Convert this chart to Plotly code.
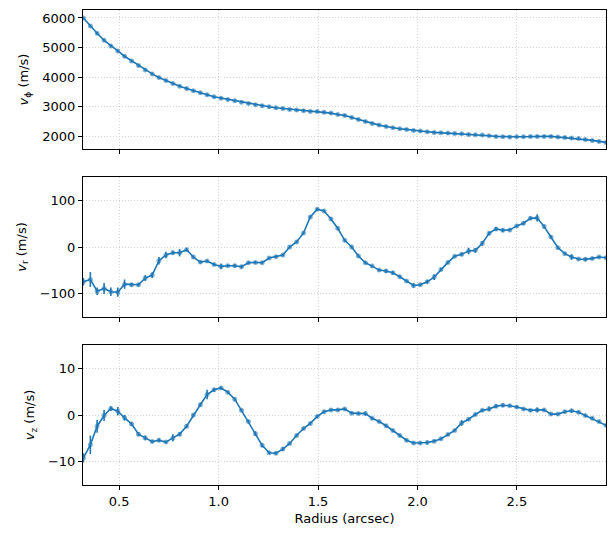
import plotly.graph_objects as go
from plotly.subplots import make_subplots

radius = [0.320, 0.355, 0.389, 0.424, 0.458, 0.493, 0.527, 0.562, 0.597, 0.631,
          0.666, 0.700, 0.735, 0.770, 0.804, 0.839, 0.873, 0.908, 0.942, 0.977,
          1.012, 1.046, 1.081, 1.115, 1.150, 1.185, 1.219, 1.254, 1.288, 1.323,
          1.357, 1.392, 1.427, 1.461, 1.496, 1.530, 1.565, 1.599, 1.634, 1.669,
          1.703, 1.738, 1.772, 1.807, 1.842, 1.876, 1.911, 1.945, 1.980, 2.014,
          2.049, 2.084, 2.118, 2.153, 2.187, 2.222, 2.257, 2.291, 2.326, 2.360,
          2.395, 2.429, 2.464, 2.499, 2.533, 2.568, 2.602, 2.637, 2.671, 2.706,
          2.741, 2.775, 2.810, 2.844, 2.879, 2.913, 2.948]

v_phi = [6000, 5730, 5483, 5247, 5056, 4888, 4708, 4551, 4393, 4247,
         4112, 3989, 3888, 3787, 3697, 3618, 3539, 3472, 3404, 3337,
         3292, 3247, 3202, 3157, 3112, 3067, 3034, 3000, 2966, 2944,
         2910, 2888, 2865, 2843, 2843, 2820, 2787, 2742, 2710, 2640,
         2573, 2506, 2438, 2382, 2337, 2292, 2258, 2236, 2202, 2180,
         2157, 2135, 2124, 2112, 2101, 2090, 2067, 2056, 2045, 2022,
         2000, 1989, 1978, 1989, 1989, 2000, 2000, 2000, 2000, 1978,
         1966, 1944, 1933, 1899, 1865, 1831, 1798]
v_phi_err = [45] * 77

v_r = [-74.6, -69.5, -94.6, -88.9, -96.0, -96.8, -79.6, -81.0, -81.0, -66.7,
       -60.2, -29.4, -17.2, -12.2, -12.2, -5.7, -21.5, -32.3, -30.1, -37.3,
       -41.6, -40.1, -40.1, -42.3, -33.7, -33.0, -33.7, -23.7, -20.8, -17.2,
       0.0, 10.8, 30.1, 64.5, 81.0, 77.4, 60.2, 40.1, 14.3, 0.0,
       -19.4, -33.7, -40.9, -49.5, -51.6, -55.2, -63.8, -73.1, -82.4, -81.0,
       -74.6, -64.5, -48.0, -33.0, -20.0, -15.8, -8.6, -7.2, 7.9, 29.4,
       38.7, 35.8, 36.6, 45.2, 50.9, 61.6, 62.4, 43.7, 21.5, -1.4,
       -14.3, -21.5, -25.8, -26.5, -24.4, -21.5, -22.9]
v_r_err = [8, 16, 8, 12, 9, 10, 10, 4, 4, 6,
           6, 8, 7, 4, 8, 4, 3, 3, 3, 3,
           6, 3, 4, 4, 3, 3, 3, 3, 3, 3,
           3, 3, 3, 3, 3, 3, 3, 3, 3, 3,
           3, 3, 3, 3, 4, 4, 3, 3, 5, 3,
           4, 6, 3, 3, 3, 4, 7, 5, 5, 4,
           4, 4, 3, 3, 4, 4, 8, 4, 3, 3,
           3, 6, 3, 4, 3, 3, 3]

v_z = [-9.2, -6.4, -2.4, -0.1, 1.4, 0.8, -0.6, -1.9, -4.1, -4.9,
       -5.7, -5.4, -5.8, -4.9, -4.1, -2.4, 0.0, 2.2, 4.4, 5.4,
       5.8, 4.9, 3.4, 1.0, -1.4, -4.0, -6.5, -8.1, -8.2, -7.3,
       -6.1, -4.4, -2.9, -1.8, -0.3, 0.7, 1.1, 1.1, 1.3, 0.4,
       0.3, 0.3, -0.7, -1.4, -2.3, -3.3, -4.4, -5.4, -6.0, -6.0,
       -5.9, -5.6, -5.1, -4.2, -3.3, -1.7, -0.9, 0.1, 1.0, 1.3,
       1.9, 2.1, 2.0, 1.7, 1.3, 1.0, 1.1, 1.1, 0.2, 0.2,
       0.7, 0.9, 0.6, -0.1, -0.7, -1.4, -2.2]
v_z_err = [1.0, 2.0, 1.4, 1.2, 0.5, 0.9, 0.6, 0.4, 0.4, 0.5,
           0.3, 0.4, 0.3, 0.8, 0.4, 0.4, 0.3, 0.4, 1.0, 0.4,
           0.3, 0.3, 0.3, 0.3, 0.3, 0.5, 0.4, 0.3, 0.3, 0.4,
           0.3, 0.3, 0.3, 0.3, 0.3, 0.3, 0.3, 0.3, 0.3, 0.3,
           0.3, 0.4, 0.3, 0.3, 0.3, 0.3, 0.3, 0.3, 0.3, 0.3,
           0.4, 0.3, 0.3, 0.3, 0.3, 0.6, 0.3, 0.3, 0.3, 0.5,
           0.4, 0.4, 0.3, 0.3, 0.3, 0.3, 0.5, 0.3, 0.3, 0.3,
           0.3, 0.4, 0.3, 0.3, 0.3, 0.3, 0.3]

x_ticks = [0.5, 1.0, 1.5, 2.0, 2.5]
x_tick_text = ["0.5", "1.0", "1.5", "2.0", "2.5"]
y_labels = ["<i>v</i><sub>ϕ</sub> (m/s)", "<i>v</i><sub>r</sub> (m/s)", "<i>v</i><sub>z</sub> (m/s)"]
y_ranges = [[1575, 6270], [-150, 150], [-15, 15]]
y_ticks = [[2000, 3000, 4000, 5000, 6000], [-100, 0, 100], [-10, 0, 10]]

C = "#1f77b4"
fig = make_subplots(rows=3, cols=1, shared_xaxes=True, vertical_spacing=0.0)

series = [(v_phi, v_phi_err), (v_r, v_r_err), (v_z, v_z_err)]
for k, (vals, errs) in enumerate(series):
    fig.add_trace(go.Scatter(
        x=radius, y=vals, mode="lines+markers",
        line=dict(color=C, width=1.6),
        marker=dict(color="rgba(31,119,180,0.55)", size=5),
        error_y=dict(type="data", array=errs, visible=True, color=C, thickness=1.6, width=0),
        showlegend=False), row=k + 1, col=1)

domains = [[0.7074, 1.0], [0.3537, 0.6484], [0.0, 0.2947]]
axis_common = dict(showline=True, linecolor="black", linewidth=1, mirror=True,
                   ticks="outside", ticklen=4, tickcolor="black",
                   showgrid=True, gridcolor="#d4d4d4", griddash="1px,2px", gridwidth=1,
                   zeroline=False, tickfont=dict(family="DejaVu Sans", size=13, color="black"))

for k in range(3):
    xa = "xaxis" if k == 0 else f"xaxis{k + 1}"
    ya = "yaxis" if k == 0 else f"yaxis{k + 1}"
    fig.layout[xa].update(range=[0.318, 2.948], tickvals=x_ticks, ticktext=x_tick_text,
                          showticklabels=(k == 2), **axis_common)
    fig.layout[ya].update(range=y_ranges[k], tickvals=y_ticks[k], domain=domains[k],
                          title=dict(text=y_labels[k], standoff=10,
                                     font=dict(family="DejaVu Sans", size=13, color="black")),
                          **axis_common)

fig.layout.xaxis3.title = dict(text="Radius (arcsec)", standoff=6,
                               font=dict(family="DejaVu Sans", size=13, color="black"))

fig.update_layout(width=615, height=538, margin=dict(l=83, r=9, t=10, b=53),
                  plot_bgcolor="white", paper_bgcolor="white",
                  font=dict(family="DejaVu Sans", size=13, color="black"))

fig.write_html("out.html")
